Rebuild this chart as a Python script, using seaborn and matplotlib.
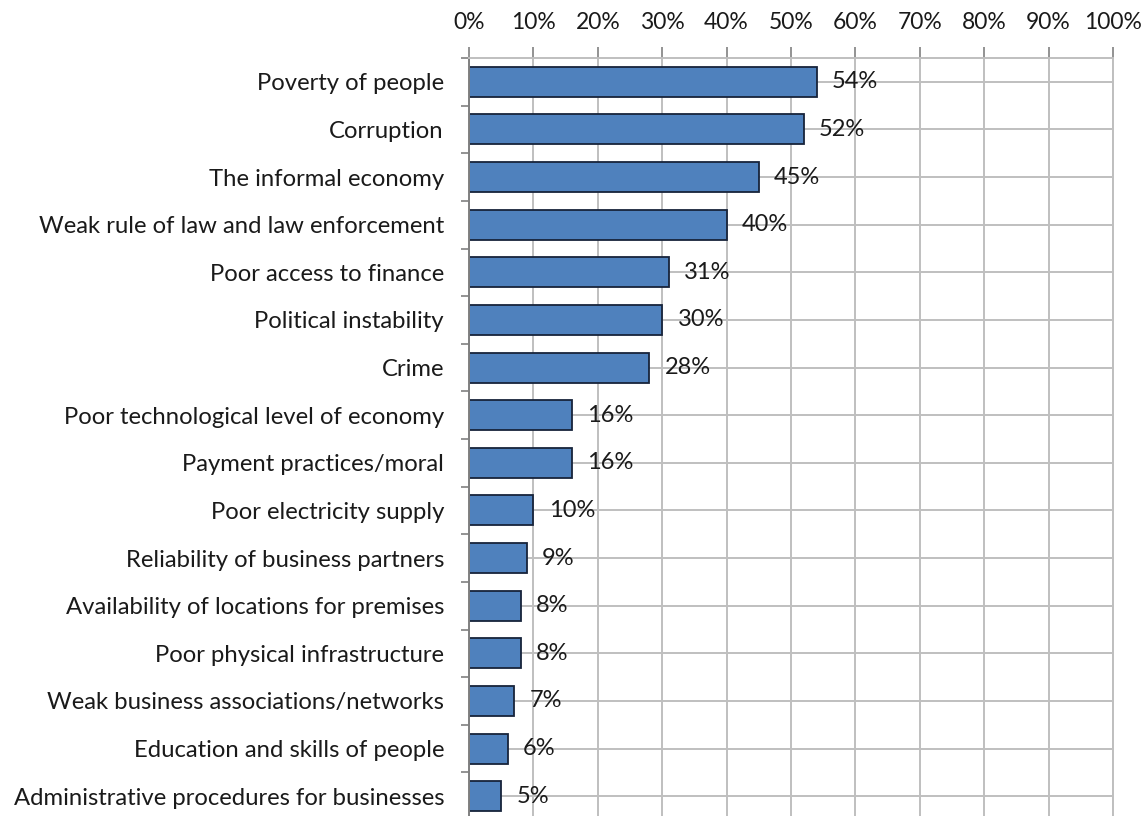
import matplotlib
matplotlib.use("Agg")
import matplotlib.pyplot as plt
import seaborn as sns
import pandas as pd
from matplotlib.ticker import FixedLocator, PercentFormatter

# Obstacles to doing business - share of respondents
categorias = [
    "Poverty of people",
    "Corruption",
    "The informal economy",
    "Weak rule of law and law enforcement",
    "Poor access to finance",
    "Political instability",
    "Crime",
    "Poor technological level of economy",
    "Payment practices/moral",
    "Poor electricity supply",
    "Reliability of business partners",
    "Availability of locations for premises",
    "Poor physical infrastructure",
    "Weak business associations/networks",
    "Education and skills of people",
    "Administrative procedures for businesses",
]
valores = [54, 52, 45, 40, 31, 30, 28, 16, 16, 10, 9, 8, 8, 7, 6, 5]
ticks_x = [0, 10, 20, 30, 40, 50, 60, 70, 80, 90, 100]

df = pd.DataFrame({"categoria": categorias, "valor": valores})

sns.set_style("white")
plt.rcParams["font.family"] = ["Lato", "DejaVu Sans"]

fig = plt.figure(figsize=(11.41, 8.16), dpi=100)
ax = fig.add_axes([469 / 1141, -4 / 816, (1113 - 469) / 1141, (820 - 58) / 816])

sns.barplot(data=df, x="valor", y="categoria", orient="h", color="#4f81bd",
            saturation=1, width=0.63, edgecolor="#17233a", linewidth=1.3, ax=ax)

# seaborn turns off the grid on the category axis, put it back (behind the bars)
ax.set_axisbelow(True)
ax.grid(True, axis="both", which="major", color="#bfbfbf", linewidth=1.4)

for i, v in enumerate(valores):
    ax.annotate(f"{v}%", (v, i), xytext=(11, 0), textcoords="offset points",
                va="center", ha="left", fontsize=17, color="#1a1a1a")

ax.set_xlim(0, 100)
ax.set_ylim(len(categorias) - 0.5, -0.5)
ax.xaxis.set_major_locator(FixedLocator(ticks_x))
ax.xaxis.set_major_formatter(PercentFormatter(decimals=0))
ax.xaxis.tick_top()
ax.tick_params(axis="x", which="major", top=True, length=8, width=1.2,
               color="#808080", labelsize=16.5, labelcolor="#1a1a1a", pad=10)

# category ticks sit on the boundaries, labels on the centres
ax.yaxis.set_minor_locator(FixedLocator([i + 0.5 for i in range(-1, len(categorias))]))
ax.tick_params(axis="y", which="major", length=0, labelsize=17.2,
               labelcolor="#1a1a1a", pad=18)
ax.tick_params(axis="y", which="minor", left=True, length=6, width=1.2, color="#808080")

ax.set_xlabel("")
ax.set_ylabel("")
for lado in ["top", "right", "bottom"]:
    ax.spines[lado].set_color("#bfbfbf")
    ax.spines[lado].set_linewidth(1.4)
ax.spines["left"].set_color("#808080")
ax.spines["left"].set_linewidth(1.4)

fig.savefig("out.png", dpi=100)
